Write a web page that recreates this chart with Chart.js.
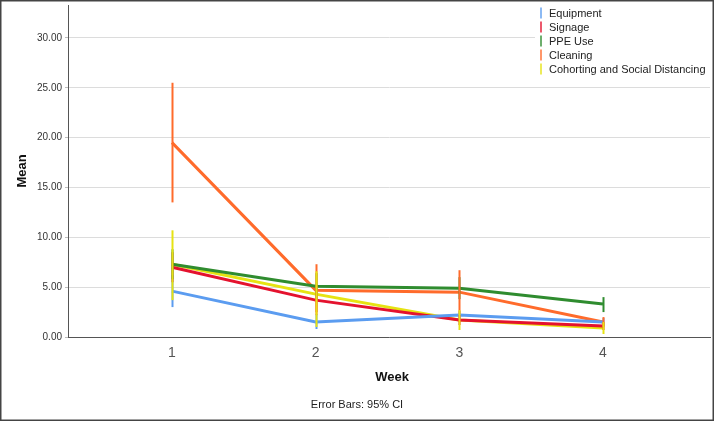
<!DOCTYPE html>
<html>
<head>
<meta charset="utf-8">
<script src="https://cdn.jsdelivr.net/npm/chart.js@4"></script>
<style>
  body { margin: 0; background: #fff; }
  #wrap { width: 714px; height: 421px; position: relative; }
</style>
</head>
<body>
<div id="wrap"><canvas id="chartMean" width="714" height="421"></canvas></div>
<script>
const weeks = [1, 2, 3, 4];
const yTicks = [0, 5, 10, 15, 20, 25, 30];

const seriesNames = ['Equipment', 'Signage', 'PPE Use', 'Cleaning', 'Cohorting and Social Distancing'];
const seriesColors = ['#5b9cf0', '#e4122e', '#2f8c2f', '#ff6b2b', '#e6e312'];

const equipment = [4.6, 1.5, 2.2, 1.5];
const signage = [7.0, 3.7, 1.7, 1.1];
const ppeUse = [7.3, 5.1, 4.9, 3.3];
const cleaning = [19.5, 4.7, 4.5, 1.5];
const cohorting = [7.3, 4.3, 1.7, 0.9];

// 95% CI (lower, upper)
const equipmentLow = [3.0, 0.8, 1.8, 1.1];
const equipmentHigh = [6.2, 2.3, 2.6, 1.9];
const signageLow = [5.5, 2.5, 1.2, 0.7];
const signageHigh = [8.5, 4.9, 2.2, 1.5];
const ppeLow = [5.8, 3.8, 3.8, 2.5];
const ppeHigh = [8.8, 6.4, 6.0, 4.0];
const cleaningLow = [13.5, 2.2, 2.3, 1.0];
const cleaningHigh = [25.5, 7.3, 6.7, 2.0];
const cohortLow = [3.7, 1.0, 0.7, 0.3];
const cohortHigh = [10.7, 6.6, 2.7, 1.5];

const means = [equipment, signage, ppeUse, cleaning, cohorting];
const lows = [equipmentLow, signageLow, ppeLow, cleaningLow, cohortLow];
const highs = [equipmentHigh, signageHigh, ppeHigh, cleaningHigh, cohortHigh];

const fontFam = '"Liberation Sans", Arial, sans-serif';

const errorBars = {
    id: 'errorBars',
    afterDatasetsDraw(chart) {
        const ctx = chart.ctx;
        const xs = chart.scales.x, ys = chart.scales.y;
        ctx.save();
        ctx.lineWidth = 2;
        means.forEach((m, i) => {
            ctx.strokeStyle = seriesColors[i];
            weeks.forEach((w, j) => {
                const px = Math.round(xs.getPixelForValue(w)) + 0.5;
                ctx.beginPath();
                ctx.moveTo(px, ys.getPixelForValue(lows[i][j]));
                ctx.lineTo(px, ys.getPixelForValue(highs[i][j]));
                ctx.stroke();
            });
        });
        ctx.restore();
    }
};

const extras = {
    id: 'extras',
    afterDraw(chart) {
        const ctx = chart.ctx;
        ctx.save();
        // legend
        ctx.fillStyle = '#fff';
        ctx.fillRect(535, 4, 175, 76);
        ctx.font = '11px ' + fontFam;
        ctx.textBaseline = 'middle';
        seriesNames.forEach((name, i) => {
            const y = 13.5 + i * 14;
            ctx.fillStyle = seriesColors[i];
            ctx.globalAlpha = 0.7;
            ctx.fillRect(540, y - 6, 2, 11);
            ctx.globalAlpha = 1;
            ctx.fillStyle = '#222';
            ctx.fillText(name, 549, y);
        });
        // titles
        ctx.fillStyle = '#111';
        ctx.font = 'bold 13px ' + fontFam;
        ctx.textAlign = 'center';
        ctx.fillText('Week', 392, 377);
        ctx.font = '11px ' + fontFam;
        ctx.fillStyle = '#222';
        ctx.fillText('Error Bars: 95% CI', 357, 405);
        ctx.save();
        ctx.translate(22, 171);
        ctx.rotate(-Math.PI / 2);
        ctx.font = 'bold 13px ' + fontFam;
        ctx.fillStyle = '#111';
        ctx.fillText('Mean', 0, 0);
        ctx.restore();
        // outer frame
        ctx.strokeStyle = '#444';
        ctx.lineWidth = 1.5;
        ctx.strokeRect(0.75, 0.75, 712.5, 419.5);
        ctx.restore();
    }
};

const chartMean = new Chart(document.getElementById('chartMean'), {
    type: 'line',
    data: {
        datasets: means.map((m, i) => ({
            label: seriesNames[i],
            data: weeks.map((w, j) => ({ x: w, y: m[j] })),
            borderColor: seriesColors[i],
            backgroundColor: seriesColors[i],
            borderWidth: 3,
            pointRadius: 0,
            tension: 0
        }))
    },
    options: {
        responsive: false,
        animation: false,
        layout: { padding: { left: 0, top: 5, right: 4, bottom: 0 } },
        plugins: { legend: { display: false }, tooltip: { enabled: false } },
        scales: {
            x: {
                type: 'linear',
                min: 0.276,
                max: 4.745,
                afterBuildTicks: (s) => { s.ticks = weeks.map(v => ({ value: v })); },
                afterFit: (s) => { s.height = 84; s.paddingLeft = 0; s.paddingRight = 0; },
                grid: { display: false, drawTicks: false },
                border: { color: '#555', width: 1 },
                ticks: {
                    color: '#555',
                    font: { family: fontFam, size: 14 },
                    padding: 8,
                    maxRotation: 0,
                    callback: (v) => String(v)
                }
            },
            y: {
                min: 0,
                max: 33.3,
                afterBuildTicks: (s) => { s.ticks = yTicks.map(v => ({ value: v })); },
                afterFit: (s) => { s.width = 68; s.paddingTop = 0; s.paddingBottom = 0; },
                grid: { color: '#dcdcdc', lineWidth: 1, tickLength: 3, tickColor: '#bbb' },
                border: { color: '#555', width: 1 },
                ticks: {
                    color: '#333',
                    font: { family: fontFam, size: 10 },
                    padding: 3,
                    callback: (v) => v.toFixed(2)
                }
            }
        }
    },
    plugins: [errorBars, extras]
});
</script>
</body>
</html>
